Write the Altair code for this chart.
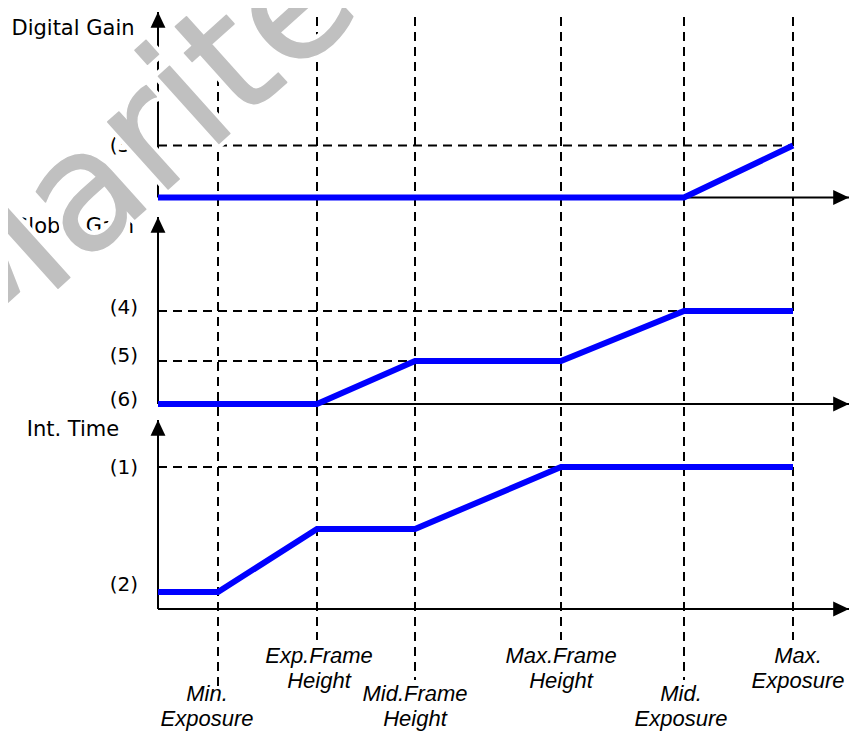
import altair as alt
import pandas as pd

# ---- event positions along the exposure axis (origin = vertical axis) ----
event_names = ["Min.\nExposure", "Exp.Frame\nHeight", "Mid.Frame\nHeight",
               "Max.Frame\nHeight", "Mid.\nExposure", "Max.\nExposure"]
event_x = [0.60, 1.59, 2.57, 4.03, 5.26, 6.35]
event_label_x = [0.49, 1.61, 2.57, 4.03, 5.23, 6.40]
event_label_y = [0.48, 0.86, 0.48, 0.86, 0.48, 0.86]
event_line_bottom = [0.52, 1.02, 0.62, 1.02, 0.62, 1.02]
dash_top = 7.25

# ---- panels ----
panel_names = ["Digital Gain", "Global Gain", "Int. Time"]
panel_base = [5.445, 3.38, 1.33]
panel_tip = [7.30, 5.25, 3.22]
panel_title_y = [7.13, 5.15, 3.12]
title_x = -0.85
x_min, x_max = -1.5, 6.91
y_min, y_max = 0.08, 7.34

# ---- curves (x, level above panel baseline) ----
dg_x = [0.0, 5.26, 6.35]
dg_v = [0.0, 0.0, 0.52]
gg_x = [0.0, 1.59, 2.57, 4.03, 5.26, 6.35]
gg_v = [0.0, 0.0, 0.43, 0.43, 0.93, 0.93]
it_x = [0.0, 0.60, 1.59, 2.57, 4.03, 6.35]
it_v = [0.17, 0.17, 0.80, 0.80, 1.42, 1.42]

# ---- level labels ----
level_text = ["(3)", "(4)", "(5)", "(6)", "(1)", "(2)"]
level_label_y = [5.96, 4.34, 3.86, 3.42, 2.74, 1.57]
level_label_x = -0.20

# ---- horizontal dashed guides ----
guide_panel = [0, 1, 1, 2]
guide_value = [0.52, 0.93, 0.43, 1.42]
guide_end = [6.35, 5.26, 2.57, 4.03]

# ---- watermark ----
wm_text = "Marite.com"
wm_x = -1.82
wm_y = 3.80
wm_angle = 318
wm_size = 165

xs = alt.Scale(domain=[x_min, x_max], nice=False, zero=False)
ys = alt.Scale(domain=[y_min, y_max], nice=False, zero=False)
X = lambda f="x": alt.X(f"{f}:Q", scale=xs, axis=None)
Y = lambda f="y": alt.Y(f"{f}:Q", scale=ys, axis=None)

ev = pd.DataFrame({
    "x": event_x,
    "y": [dash_top] * len(event_x),
    "y2": event_line_bottom,
    "lx": event_label_x,
    "ly": event_label_y,
    "name": event_names,
})

curves = []
for p, (cx, cv) in enumerate([(dg_x, dg_v), (gg_x, gg_v), (it_x, it_v)]):
    for a, b in zip(cx, cv):
        curves.append({"panel": p, "x": a, "y": panel_base[p] + b})
curves = pd.DataFrame(curves)

guides = pd.DataFrame({
    "x": [0.0] * len(guide_panel),
    "x2": guide_end,
    "y": [panel_base[p] + v for p, v in zip(guide_panel, guide_value)],
})

axes_v = pd.DataFrame({"x": [0.0] * 3, "y": panel_base, "y2": panel_tip})
axes_h = pd.DataFrame({"x": [0.0] * 3, "x2": [x_max] * 3, "y": panel_base})
tips_up = pd.DataFrame({"x": [0.0] * 3, "y": panel_tip})
tips_right = pd.DataFrame({"x": [x_max] * 3, "y": panel_base})
titles = pd.DataFrame({"x": [title_x] * 3, "y": panel_title_y, "t": panel_names})
levels = pd.DataFrame({"x": [level_label_x] * len(level_text), "y": level_label_y, "t": level_text})
wm = pd.DataFrame({"x": [wm_x], "y": [wm_y], "t": [wm_text]})

dash = [9, 6]

v_dash = alt.Chart(ev).mark_rule(color="black", strokeWidth=2, strokeDash=dash).encode(
    x=X(), y=Y(), y2="y2:Q")
h_dash = alt.Chart(guides).mark_rule(color="black", strokeWidth=2, strokeDash=dash).encode(
    x=X(), x2="x2:Q", y=Y())
ax_v = alt.Chart(axes_v).mark_rule(color="black", strokeWidth=2).encode(x=X(), y=Y(), y2="y2:Q")
ax_h = alt.Chart(axes_h).mark_rule(color="black", strokeWidth=2).encode(x=X(), x2="x2:Q", y=Y())
arr_up = alt.Chart(tips_up).mark_point(
    shape="M0,0L-0.47,1L0.47,1Z", size=1000, filled=True, color="black", opacity=1, strokeWidth=0
).encode(x=X(), y=Y())
arr_right = alt.Chart(tips_right).mark_point(
    shape="M0,0L-1,-0.47L-1,0.47Z", size=1000, filled=True, color="black", opacity=1, strokeWidth=0
).encode(x=X(), y=Y())
blue = alt.Chart(curves).mark_line(color="#0000ff", strokeWidth=6).encode(
    x=X(), y=Y(), detail="panel:N")
title_txt = alt.Chart(titles).mark_text(
    font="DejaVu Sans", fontSize=21, align="center", baseline="middle", color="black"
).encode(x=X(), y=Y(), text="t:N")
level_txt = alt.Chart(levels).mark_text(
    font="DejaVu Sans", fontSize=20, align="right", baseline="middle", color="black"
).encode(x=X(), y=Y(), text="t:N")
event_txt = alt.Chart(ev).mark_text(
    font="Liberation Sans", fontStyle="italic", fontSize=22, align="center",
    baseline="middle", lineBreak="\n", lineHeight=25, color="black"
).encode(x=X("lx"), y=Y("ly"), text="name:N")
wm_halo = alt.Chart(wm).mark_text(
    font="DejaVu Sans", fontSize=wm_size, align="left", baseline="alphabetic",
    angle=wm_angle, color="white", stroke="white", strokeWidth=10, strokeJoin="round"
).encode(x=X(), y=Y(), text="t:N")
wm_grey = alt.Chart(wm).mark_text(
    font="DejaVu Sans", fontSize=wm_size, align="left", baseline="alphabetic",
    angle=wm_angle, color="#c0c0c0", stroke="#c0c0c0", strokeWidth=1.5, strokeJoin="round",
    strokeCap="round"
).encode(x=X(), y=Y(), text="t:N")

chart = alt.layer(
    v_dash, h_dash, ax_v, ax_h, arr_up, arr_right, blue,
    title_txt, level_txt, event_txt, wm_halo, wm_grey
).properties(
    width=841, height=726, padding=0, autosize="none", background="white"
).configure_view(stroke=None)

chart.save("out.html", embed_options={"renderer": "svg", "actions": False})
